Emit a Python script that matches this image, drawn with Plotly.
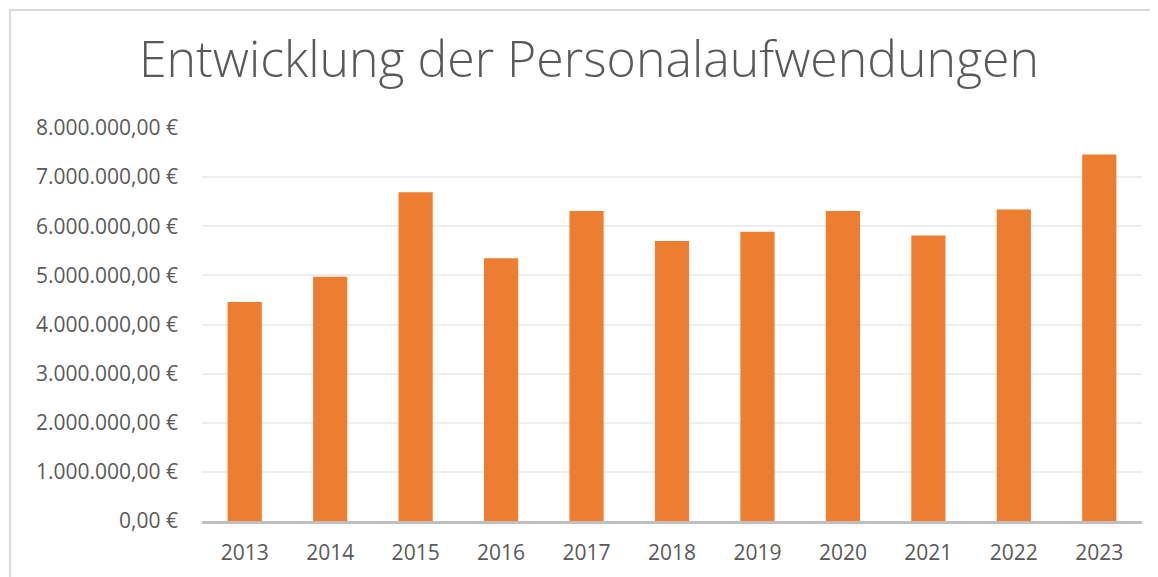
import plotly.graph_objects as go

years = ["2013", "2014", "2015", "2016", "2017", "2018", "2019", "2020", "2021", "2022", "2023"]
personalaufwand = [4460000, 4970000, 6690000, 5350000, 6310000, 5700000, 5890000, 6310000, 5810000, 6340000, 7460000]
y_tick_values = [0, 1000000, 2000000, 3000000, 4000000, 5000000, 6000000, 7000000, 8000000]
y_tick_labels = ["0,00 €", "1.000.000,00 €", "2.000.000,00 €", "3.000.000,00 €", "4.000.000,00 €",
                 "5.000.000,00 €", "6.000.000,00 €", "7.000.000,00 €", "8.000.000,00 €"]
title_text = "Entwicklung der Personalaufwendungen"

# the page body adds an 8px offset; lay out in screenshot pixels and shift
OFF = 8
W, H = 1158 - OFF, 577 - OFF
plot_left, plot_right, plot_top, plot_bottom = 202, 1142, 128, 521
ml = plot_left - OFF
mr = 1158 - plot_right
mt = plot_top - OFF
mb = 577 - plot_bottom

fig = go.Figure(
    go.Bar(
        x=years,
        y=personalaufwand,
        marker=dict(color="#ED7D31", line=dict(width=0)),
        width=0.4,
        hoverinfo="x+y",
    )
)

pw = W - ml - mr
ph = H - mt - mb
def px_x(x):
    return (x - OFF - ml) / pw
def px_y(y):
    return (H - mb - (y - OFF)) / ph

fig.add_shape(
    type="rect", xref="paper", yref="paper",
    x0=px_x(10), x1=px_x(1175), y0=px_y(600), y1=px_y(10),
    line=dict(color="#d9d9d9", width=2), fillcolor="rgba(0,0,0,0)", layer="below",
)

fig.update_layout(
    width=W, height=H,
    margin=dict(l=ml, r=mr, t=mt, b=mb, pad=0),
    paper_bgcolor="white", plot_bgcolor="white",
    showlegend=False,
    font=dict(family="Open Sans", color="#595959", size=21),
    title=dict(
        text=title_text,
        x=px_x(589), xref="paper", xanchor="center",
        y=1 - (59 - OFF) / H, yref="container", yanchor="middle",
        font=dict(family="Open Sans", size=50, color="#595959", weight=300),
    ),
)

fig.update_yaxes(
    range=[0, 8000000],
    tickvals=y_tick_values,
    ticktext=y_tick_labels,
    showgrid=True, gridcolor="#eeeeee", gridwidth=2,
    zeroline=False, showline=False, ticks="",
    ticklabelstandoff=23,
    tickfont=dict(size=21, color="#595959"),
    fixedrange=True,
)
fig.update_xaxes(
    type="category",
    showline=True, linecolor="#bfbfbf", linewidth=3,
    showgrid=False, ticks="",
    ticklabelstandoff=11,
    tickfont=dict(size=21, color="#595959"),
    fixedrange=True,
)

fig.write_html("out.html")
